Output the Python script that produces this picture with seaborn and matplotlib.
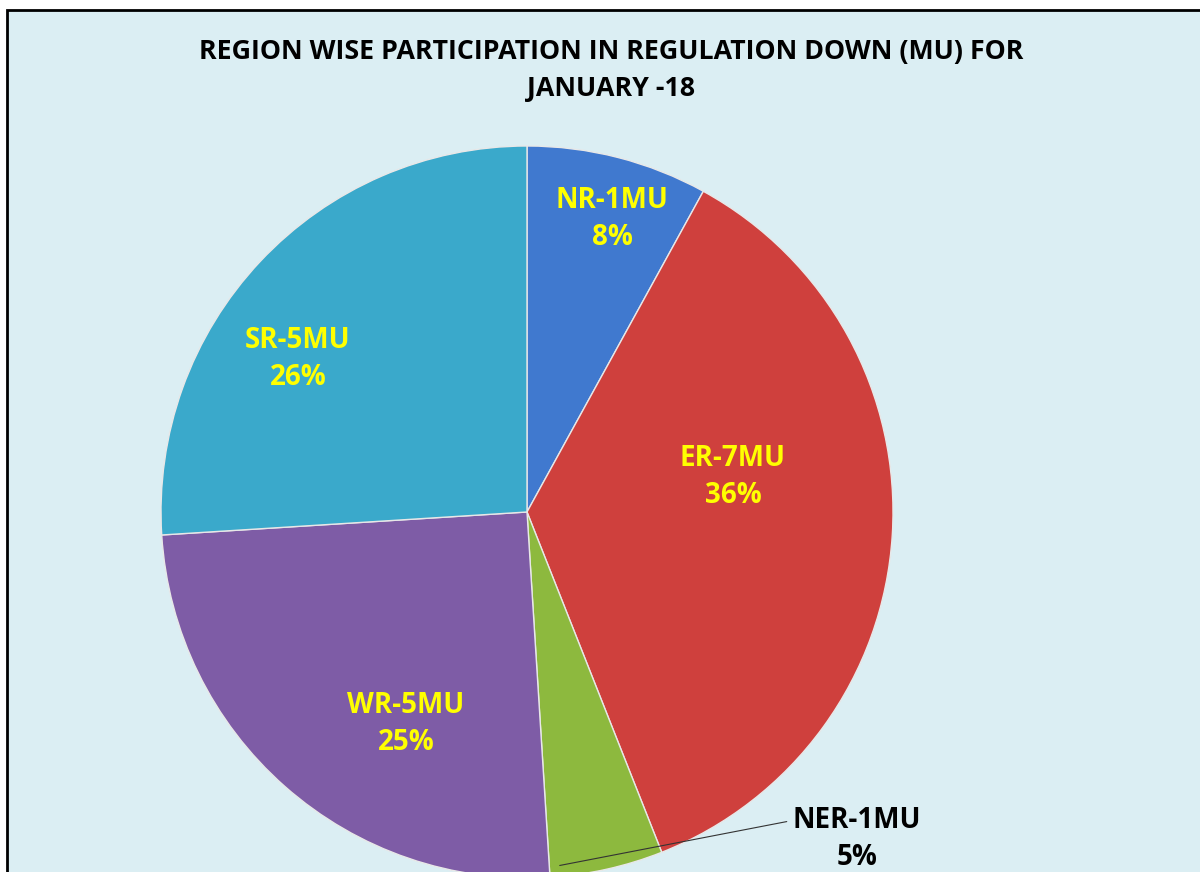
import numpy as np
import pandas as pd
import seaborn as sns
import matplotlib.pyplot as plt
from matplotlib.patches import Rectangle

regions = ['NR', 'ER', 'NER', 'WR', 'SR']
energy_mu = [1, 7, 1, 5, 5]
shares = [8, 36, 5, 25, 26]
colores = ['#4079CF', '#CF403D', '#8DB93E', '#7E5CA6', '#3AA9CB']

datos = pd.DataFrame({'region': regions, 'mu': energy_mu, 'pct': shares})

sns.set_style('white')
plt.rcParams['font.family'] = ['Open Sans', 'DejaVu Sans']

fig = plt.figure(figsize=(12, 8.72), dpi=100)
ax = fig.add_axes([0, 0, 1, 1])

# fondo del grafico con marco
ax.add_patch(Rectangle((7, -20), 1220, 872 - 10 + 20, facecolor='#DBEEF3',
                       edgecolor='black', linewidth=2, zorder=0))

cx, cy, r = 527, 872 - 512, 366
wedges, _ = ax.pie(datos['pct'], colors=colores, startangle=90, counterclock=False,
                   center=(cx, cy), radius=r, frame=True,
                   wedgeprops={'edgecolor': '#E8E8E8', 'linewidth': 1})
ax.set_xlim(0, 1200)
ax.set_ylim(0, 872)
ax.set_aspect('equal')
ax.axis('off')

# etiquetas
pos = {'NR': (612, 872 - 219), 'ER': (733, 872 - 477), 'WR': (406, 872 - 724),
       'SR': (298, 872 - 359)}
for _, fila in datos.iterrows():
    texto = f"{fila['region']}-{fila['mu']}MU\n{fila['pct']}%"
    if fila['region'] == 'NER':
        ax.annotate(texto, xy=(557, 872 - 866), xytext=(857, 872 - 839),
                    ha='center', va='center', fontsize=20, fontweight='bold',
                    color='black', linespacing=1.38,
                    arrowprops=dict(arrowstyle='-', color='#333333', lw=0.8,
                                    relpos=(0, 0.78)))
    else:
        x, y = pos[fila['region']]
        ax.text(x, y, texto, ha='center', va='center', fontsize=20,
                fontweight='bold', color='#FFFF00', linespacing=1.38)

ax.text(611, 872 - 71, 'REGION WISE PARTICIPATION IN REGULATION DOWN (MU) FOR\nJANUARY -18',
        ha='center', va='center', fontsize=19.3, fontweight='bold', color='black',
        linespacing=1.55)

plt.savefig('out.png', dpi=100)
plt.close()
